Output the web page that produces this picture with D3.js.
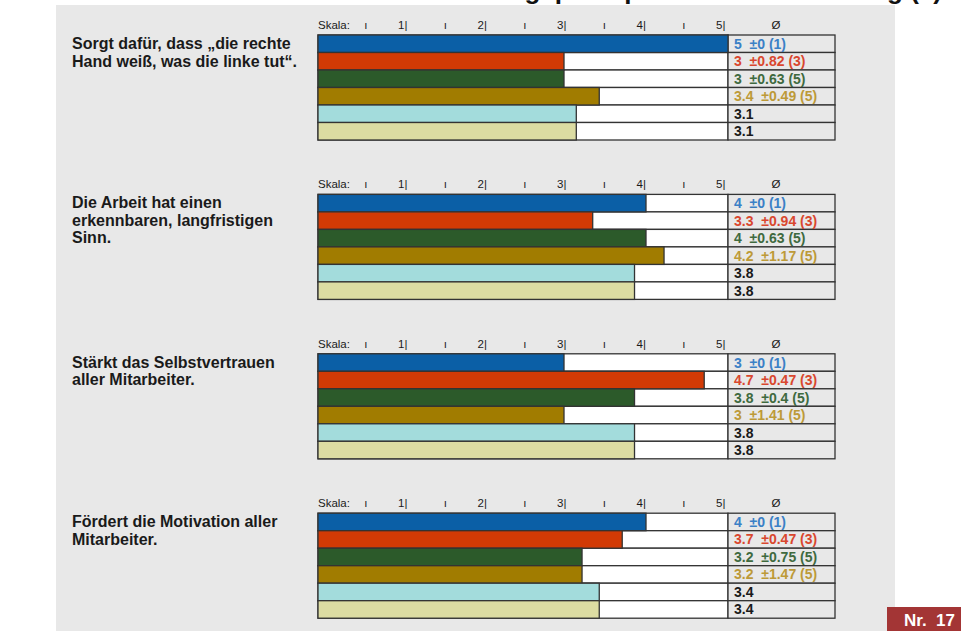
<!DOCTYPE html>
<html><head><meta charset="utf-8">
<script src="https://cdn.jsdelivr.net/npm/d3@7"></script>
<style>html,body{margin:0;padding:0;background:#fff}svg{display:block}</style>
</head><body>
<script>
// ---- data ----
const titles = [
  ["Sorgt dafür, dass „die rechte", "Hand weiß, was die linke tut“."],
  ["Die Arbeit hat einen", "erkennbaren, langfristigen", "Sinn."],
  ["Stärkt das Selbstvertrauen", "aller Mitarbeiter."],
  ["Fördert die Motivation aller", "Mitarbeiter."]
];
const barValues = [
  [5, 3, 3, 3.43, 3.15, 3.15],
  [4, 3.35, 4, 4.22, 3.86, 3.86],
  [3, 4.71, 3.86, 3, 3.86, 3.86],
  [4, 3.71, 3.22, 3.22, 3.43, 3.43]
];
const meanLabels = [
  ["5", "3", "3", "3.4", "3.1", "3.1"],
  ["4", "3.3", "4", "4.2", "3.8", "3.8"],
  ["3", "4.7", "3.8", "3", "3.8", "3.8"],
  ["4", "3.7", "3.2", "3.2", "3.4", "3.4"]
];
const sds = [
  [0, 0.82, 0.63, 0.49],
  [0, 0.94, 0.63, 1.17],
  [0, 0.47, 0.4, 1.41],
  [0, 0.47, 0.75, 1.47]
];
const ns = [
  [1, 3, 5, 5],
  [1, 3, 5, 5],
  [1, 3, 5, 5],
  [1, 3, 5, 5]
];
const scaleTicks = [1, 2, 3, 4, 5];
const barColors = ["#0b5fa6", "#d23a05", "#2c5a2a", "#a17c00", "#a3dcdc", "#dcdca2"];
const textColors = ["#3b80c6", "#d9472e", "#3f6a3f", "#bd9a38", "#1a1a1a", "#1a1a1a"];

const W = 961, H = 631;
const svg = d3.select("body").append("svg").attr("width", W).attr("height", H);
svg.append("rect").attr("x", 56).attr("y", 5).attr("width", 839).attr("height", H - 5).attr("fill", "#e8e8e8");

// cut-off slide title at the very top (only its lower edge is visible)
svg.append("text").attr("x", 942).attr("y", -1).attr("text-anchor", "end")
  .attr("font-family", "Liberation Sans, Arial, sans-serif").attr("font-weight", "bold")
  .attr("font-size", 26).attr("fill", "#111").text("Führungsprinzipien in der Umsetzung (4)");

const x = d3.scaleLinear().domain([0, 5]).range([318, 728]);
const hx = d3.scaleLinear().domain([0, 5]).range([326, 723.5]);
const valX0 = 728, valX1 = 835;
const rowH = 17.5;
const rows = d3.range(6);
const y = d3.scaleBand().domain(rows).range([0, rowH * 6]).paddingInner(0);

const font = "Liberation Sans, Arial, Helvetica, sans-serif";

titles.forEach((t, p) => {
  const top = 35 + p * 159.4;
  const g = svg.append("g").attr("transform", `translate(0,${top})`);

  // title
  t.forEach((line, i) => {
    g.append("text").attr("x", 72).attr("y", 14 + i * 17.5)
      .attr("font-family", font).attr("font-weight", "bold").attr("font-size", 16)
      .attr("fill", "#1a1a1a").text(line);
  });

  // header scale
  const hdr = g.append("g").attr("font-family", font).attr("font-size", 11.5).attr("fill", "#1a1a1a");
  hdr.append("text").attr("x", 318).attr("y", -6).text("Skala:");
  hdr.selectAll(".big").data(scaleTicks).join("text")
    .attr("x", d => hx(d) + 2).attr("y", -6).attr("text-anchor", "end").text(d => d + "|");
  hdr.selectAll(".half").data(scaleTicks).join("text")
    .attr("x", d => hx(d - 0.5)).attr("y", -6).attr("text-anchor", "middle").text("ı");
  hdr.append("text").attr("x", 776).attr("y", -6).attr("text-anchor", "middle").text("Ø");

  // rows background
  g.selectAll(".cell").data(rows).join("rect")
    .attr("x", x(0)).attr("y", d => y(d)).attr("width", x(5) - x(0)).attr("height", rowH)
    .attr("fill", "#ffffff").attr("stroke", "#333").attr("stroke-width", 1.3);
  g.selectAll(".vcell").data(rows).join("rect")
    .attr("x", valX0).attr("y", d => y(d)).attr("width", valX1 - valX0).attr("height", rowH)
    .attr("fill", "#e8e8e8").attr("stroke", "#333").attr("stroke-width", 1.3);

  // bars
  g.selectAll(".bar").data(barValues[p]).join("rect")
    .attr("x", x(0)).attr("y", (d, i) => y(i)).attr("width", d => x(d) - x(0)).attr("height", rowH)
    .attr("fill", (d, i) => barColors[i]).attr("stroke", "#333").attr("stroke-width", 1.3);

  // value labels
  g.selectAll(".val").data(rows).join("text")
    .attr("x", 734).attr("y", i => y(i) + rowH / 2 + 5)
    .attr("font-family", font).attr("font-weight", "bold").attr("font-size", 14)
    .attr("fill", i => textColors[i]).attr("xml:space", "preserve").style("white-space", "pre")
    .text(i => i < 4 ? `${meanLabels[p][i]}  ±${sds[p][i]} (${ns[p][i]})` : meanLabels[p][i]);
});

// page number box
svg.append("rect").attr("x", 887).attr("y", 607).attr("width", 74).attr("height", 24).attr("fill", "#a33535");
svg.append("text").attr("x", 955).attr("y", 626).attr("text-anchor", "end")
  .attr("font-family", font).attr("font-weight", "bold").attr("font-size", 17).attr("fill", "#fff")
  .style("white-space", "pre").text("Nr.  17");
</script>
</body></html>
